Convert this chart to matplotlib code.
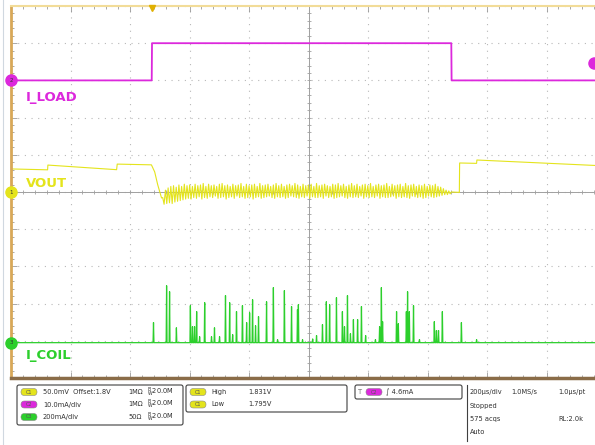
import matplotlib
matplotlib.use("Agg")
import matplotlib.pyplot as plt
from matplotlib.patches import FancyBboxPatch
import numpy as np

# ---- data (time in us from screen centre) ----
# I_LOAD (mA)
iload_t = [-1000, -527, -526, 480, 481, 1000]
iload_ma = [0.0, 0.0, 10.0, 10.0, 0.0, 0.0]

# VOUT (V): light-load part before the step, ripple during load, recovery after
vout_pre_t = [-1000, -877, -876, -645, -643, -528, -517, -507, -494]
vout_pre_v = [1.8310, 1.8298, 1.8362, 1.8300, 1.8375, 1.8365, 1.8270, 1.8100, 1.7920]
vout_ripple_mv = [-6, -15, 4, -14, 7, -13, 9, -14, 10, -12, 8, -11, 11, -10, 9, -9, 12, -8,
                  10, -7, 11, -8, 9, -6, 12, -7, 10, -5, 11, -8, 13, -6, 9, -7, 12, -5,
                  10, -6, 11, -4, 9, -7, 12, -6, 13, -5, 10, -8, 11, -6, 9, -5, 12, -7,
                  10, -4, 11, -6, 13, -5, 9, -7, 12, -6, 10, -5, 11, -8, 12, -6, 9, -5,
                  13, -7, 10, -6, 11, -5, 12, -4, 9, -6, 11, -7, 13, -5, 10, -6, 12, -5,
                  9, -7, 11, -6, 12, -4, 10, -5, 13, -6, 11, -7, 9, -5, 12, -6, 10, -4,
                  11, -7, 12, -5, 9, -6, 13, -6, 10, -5, 11, -7, 12, -4, 10, -6, 9, -5,
                  12, -7, 11, -6, 13, -5, 10, -4, 12, -6, 9, -7, 11, -5, 13, -6, 10, -5,
                  12, -6, 9, -4, 11, -7, 12, -5, 10, -6, 13, -5, 9, -6, 11, -4, 12, -7,
                  10, -5, 11, -6, 13, -6, 9, -5, 12, -4, 10, -7, 11, -5, 12, -6, 9, -5,
                  13, -6, 10, -7, 11, -4, 12, -5, 9, -6, 11, -5, 10, -7, 12, -6, 9, -4,
                  11, -5, 10, -6, 12, -5, 9, -4, 8, -3, 6, -2, 4, -2, 3, -1]
vout_ripple_span = (-490, 476)
vout_ripple_mid = 1.7985
vout_post_t = [480, 507, 508, 565, 566, 1000]
vout_post_v = [1.8000, 1.7995, 1.8390, 1.8385, 1.8430, 1.8350]

# I_COIL spikes: time (us), peak (mA)
coil_t = [-521, -477, -467, -444, -397, -390, -383, -376, -366, -349, -326, -316, -299,
          -279, -265, -255, -242, -222, -208, -198, -188, -178, -168, -141, -118, -104,
          -81, -57, -37, -34, -20, 14, 27, 47, 60, 71, 94, 114, 121, 131, 141, 151, 165,
          178, 192, 225, 239, 245, 249, 296, 302, 329, 333, 339, 353, 373, 423, 430, 437,
          450, 514, 565]
coil_ma = [108, 306, 274, 80, 199, 86, 86, 167, 32, 215, 32, 80, 32,
           253, 215, 43, 167, 199, 108, 161, 231, 91, 140, 220, 296, 16,
           280, 194, 178, 204, 16, 20, 38, 97, 220, 204, 242, 167, 86, 253, 48, 124, 124,
           194, 38, 16, 86, 296, 113, 167, 102, 167, 274, 167, 199, 16, 113, 65, 65,
           167, 108, 16]

# channel settings
vout_offset, vout_scale = 1.8, 0.05      # V, V/div
iload_pos, iload_scale = 3.0, 10.0       # div, mA/div
icoil_pos, icoil_scale = -4.05, 200.0    # div, mA/div
trig_level = 4.6                         # mA

c_yel = "#e4e41c"
c_mag = "#dc28dc"
c_grn = "#2ccf2c"

fig = plt.figure(figsize=(5.95, 4.45), dpi=100)
fig.patch.set_facecolor("white")

# screen area (right edge of the graticule falls just outside the picture)
ax = fig.add_axes([11 / 595, (445 - 378) / 445, (606 - 11) / 595, (378 - 6) / 445])
ax.set_xlim(-1000, 1000)
ax.set_ylim(-5, 5)
ax.set_facecolor("white")

# graticule
ax.set_xticks(np.arange(-1000, 1001, 200))
ax.set_yticks(np.arange(-5, 6, 1))
ax.set_xticks(np.arange(-1000, 1001, 40), minor=True)
ax.set_yticks(np.arange(-5, 5.01, 0.2), minor=True)
ax.tick_params(which="both", direction="in", labelbottom=False, labelleft=False,
               top=True, right=False, color="#9a9a9a", width=0.6)
ax.tick_params(which="major", length=4)
ax.tick_params(which="minor", length=2)
ax.grid(True, which="major", color="#b8b8b8", lw=0.8, ls=(0, (1, 5)))
ax.spines["left"].set_color("#d8a858")
ax.spines["left"].set_linewidth(2)
ax.spines["top"].set_color("#f2dc98")
ax.spines["top"].set_linewidth(1.5)
ax.spines["bottom"].set_color("#8a6c48")
ax.spines["bottom"].set_linewidth(2.5)
ax.spines["right"].set_visible(False)

# centre cross with little ticks
ax.axhline(0, color="#a0a0a0", lw=0.7)
ax.axvline(0, color="#a0a0a0", lw=0.7)
mx = np.arange(-1000, 1001, 40)
my = np.arange(-5, 5.01, 0.2)
ax.plot(mx, np.zeros_like(mx), ls="", marker="|", ms=3, color="#a0a0a0", mew=0.6)
ax.plot(np.zeros_like(my), my, ls="", marker="_", ms=3, color="#a0a0a0", mew=0.6)

# traces
ax.plot(iload_t, np.array(iload_ma) / iload_scale + iload_pos, color=c_mag, lw=1.3)

rip_t = np.linspace(vout_ripple_span[0], vout_ripple_span[1], len(vout_ripple_mv))
rip_v = vout_ripple_mid + np.array(vout_ripple_mv) / 1000.0
vt = np.concatenate([vout_pre_t, rip_t, vout_post_t])
vv = np.concatenate([vout_pre_v, rip_v, vout_post_v])
ax.plot(vt, (vv - vout_offset) / vout_scale, color=c_yel, lw=0.8)

ct, cv = [-1000], [0.0]
for t, h in sorted(zip(coil_t, coil_ma)):
    ct += [t - 1.5, t, t + 1.5]
    cv += [0.0, h, 0.0]
ct.append(1000)
cv.append(0.0)
ax.plot(ct, np.array(cv) / icoil_scale + icoil_pos, color=c_grn, lw=0.9)

# channel ground markers, trigger markers
for pos, col, num in [(iload_pos, c_mag, "2"), (0, c_yel, "1"), (icoil_pos, c_grn, "3")]:
    ax.plot([-1000], [pos], "o", ms=8, color=col, clip_on=False, zorder=5)
    ax.text(-1000, pos, num, fontsize=4, ha="center", va="center", color="#333333",
            zorder=6, clip_on=False)
ax.plot([960], [trig_level / iload_scale + iload_pos], "o", ms=8, color=c_mag,
        clip_on=False, zorder=5)
ax.plot([-527], [4.95], marker="v", ms=4, color="#e0b000", clip_on=False, zorder=5)

# trace labels
ax.text(-950, iload_pos - 0.45, "I_LOAD", color=c_mag, fontsize=9.5, fontweight="bold",
        va="center")
ax.text(-950, 0.22, "VOUT", color=c_yel, fontsize=9.5, fontweight="bold", va="center")
ax.text(-950, icoil_pos - 0.35, "I_COIL", color=c_grn, fontsize=9.5, fontweight="bold",
        va="center")

# ---- info panel below the screen (pixel coords) ----
pan = fig.add_axes([0, 0, 1, 1], zorder=-1)
pan.set_xlim(0, 595)
pan.set_ylim(445, 0)
pan.axis("off")
pan.plot([3, 3], [0, 445], color="#d0d8e0", lw=0.8)

def box(x0, y0, x1, y1):
    pan.add_patch(FancyBboxPatch((x0, y0), x1 - x0, y1 - y0,
                                 boxstyle="round,pad=0,rounding_size=2",
                                 fc="none", ec="#404040", lw=0.8))

def pill(x, y, col, txt):
    pan.add_patch(FancyBboxPatch((x, y - 3.5), 16, 7, boxstyle="round,pad=0,rounding_size=3.5",
                                 fc=col, ec="#888888", lw=0.4))
    pan.text(x + 8, y, txt, fontsize=3.5, ha="center", va="center", color="#555555")

fs = 4.8
tc = "#303030"
box(17, 385, 183, 425)
rows = [(c_yel, "C1", "50.0mV  Offset:1.8V", "1M\u03a9", 392),
        (c_mag, "C2", "10.0mA/div", "1M\u03a9", 404.5),
        (c_grn, "C3", "200mA/div", "50\u03a9", 417)]
for col, lab, s1, imp, y in rows:
    pill(21, y, col, lab)
    pan.text(43, y, s1, fontsize=fs, va="center", color=tc)
    pan.text(128, y, imp, fontsize=fs, va="center", color=tc)
    pan.text(147, y, r"$^{\rm B}_{\rm W}$20.0M", fontsize=fs, va="center", color=tc)

box(186, 385, 347, 412)
pill(190, 392, c_yel, "C1")
pan.text(211, 392, "High", fontsize=fs, va="center", color=tc)
pan.text(248, 392, "1.831V", fontsize=fs, va="center", color=tc)
pill(190, 404.5, c_yel, "C1")
pan.text(211, 404.5, "Low", fontsize=fs, va="center", color=tc)
pan.text(248, 404.5, "1.795V", fontsize=fs, va="center", color=tc)

box(355, 385, 462, 399)
pan.text(358, 392, "T", fontsize=fs, va="center", color="#707070")
pill(366, 392, c_mag, "C2")
pan.text(386, 392, "\u222b 4.6mA", fontsize=fs, va="center", color=tc)

pan.plot([467, 467], [385, 441], color="#404040", lw=0.8)
pan.text(470, 392, "200\u00b5s/div", fontsize=fs, va="center", color=tc)
pan.text(511, 392, "1.0MS/s", fontsize=fs, va="center", color=tc)
pan.text(558, 392, "1.0\u00b5s/pt", fontsize=fs, va="center", color=tc)
pan.text(470, 406, "Stopped", fontsize=fs, va="center", color=tc)
pan.text(470, 419, "575 acqs", fontsize=fs, va="center", color=tc)
pan.text(558, 419, "RL:2.0k", fontsize=fs, va="center", color=tc)
pan.text(470, 432, "Auto", fontsize=fs, va="center", color=tc)

fig.savefig("out.png", dpi=100)
